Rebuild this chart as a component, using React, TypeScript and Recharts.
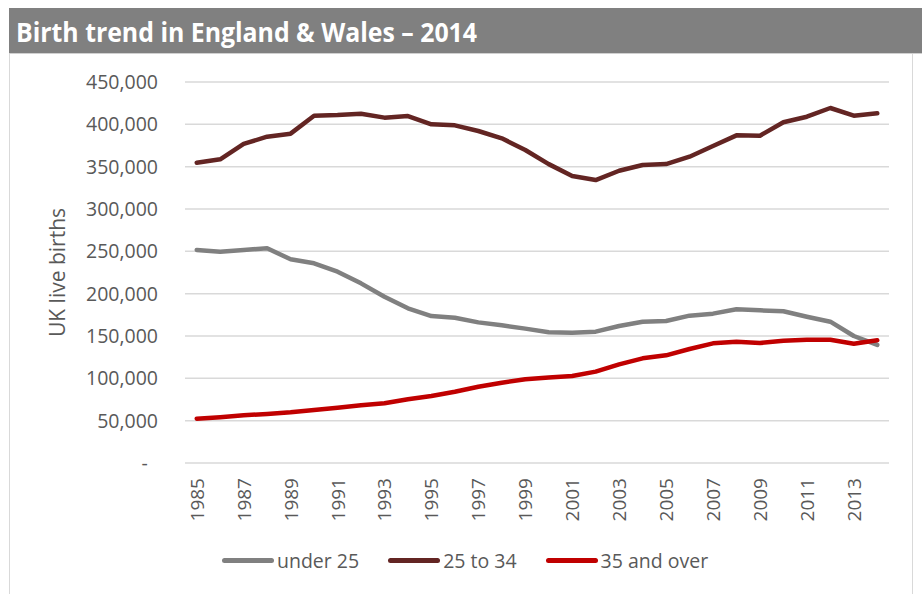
import React from 'react';
import { LineChart, Line, XAxis, YAxis, CartesianGrid } from 'recharts';

const years: string[] = [
  '1985', '1986', '1987', '1988', '1989', '1990', '1991', '1992', '1993', '1994',
  '1995', '1996', '1997', '1998', '1999', '2000', '2001', '2002', '2003', '2004',
  '2005', '2006', '2007', '2008', '2009', '2010', '2011', '2012', '2013', '2014',
];

const under25: number[] = [
  251600, 249600, 251600, 253600, 240600, 235900, 226000, 212200, 196400, 182700,
  173600, 171600, 166100, 162600, 158700, 154500, 153900, 155100, 161800, 166900,
  167700, 174000, 176400, 181500, 180300, 179200, 172800, 166900, 150000, 139400,
];

const age25to34: number[] = [
  354700, 358700, 376800, 385400, 389000, 410200, 411000, 412600, 407900, 409800,
  400000, 398800, 392100, 383500, 369700, 353000, 339000, 334200, 345200, 352000,
  353100, 361800, 374400, 387000, 386600, 402400, 409000, 419300, 410200, 413000,
];

const over35: number[] = [
  52300, 54000, 56300, 57900, 59900, 62600, 65300, 68100, 70500, 75200,
  79100, 84200, 90100, 94800, 98800, 101000, 102800, 107900, 116500, 123600,
  127200, 134600, 141300, 143300, 141700, 144400, 145600, 145600, 140900, 144900,
];

const yTicks: number[] = [0, 50000, 100000, 150000, 200000, 250000, 300000, 350000, 400000, 450000];

const series = [
  { key: 'under25', name: 'under 25', color: '#808080', values: under25 },
  { key: 'age25to34', name: '25 to 34', color: '#632523', values: age25to34 },
  { key: 'over35', name: '35 and over', color: '#c00000', values: over35 },
];

const data = years.map((year, i) => {
  const row: Record<string, string | number> = { year };
  series.forEach((s) => {
    row[s.key] = s.values[i];
  });
  return row;
});

const FONT = "'Open Sans', 'Noto Sans', sans-serif";
const TEXT = '#595959';

const formatY = (v: number) => (v === 0 ? '-\u00a0\u00a0' : v.toLocaleString('en-US'));

const XTick = (props: any) => {
  const { x, y, payload } = props;
  return (
    <text
      x={x}
      y={y}
      transform={`rotate(-90, ${x}, ${y})`}
      textAnchor="end"
      dominantBaseline="central"
      fill={TEXT}
      fontSize={19}
      fontFamily={FONT}
    >
      {payload.value}
    </text>
  );
};

export default function App() {
  return (
    <div
      style={{
        position: 'absolute',
        left: 0,
        top: 0,
        width: 922,
        height: 594,
        background: '#ffffff',
        overflow: 'hidden',
        fontFamily: FONT,
      }}
    >
      {/* chart frame */}
      <div
        style={{
          position: 'absolute',
          left: 9,
          top: 53,
          width: 902,
          height: 560,
          borderLeft: '1.5px solid #d9d9d9',
          borderRight: '1.5px solid #d9d9d9',
        }}
      />
      {/* title bar */}
      <div
        style={{
          position: 'absolute',
          left: 9,
          top: 8,
          width: 913,
          height: 45,
          background: '#808080',
          borderBottom: '1.5px solid #d0d0d0',
        }}
      />
      <svg style={{ position: 'absolute', left: 0, top: 0 }} width={922} height={60}>
        <text
          x={16}
          y={42}
          fill="#ffffff"
          fontSize={26}
          fontWeight="bold"
          fontFamily={FONT}
          textLength={461}
          lengthAdjust="spacingAndGlyphs"
        >
          Birth trend in England &amp; Wales – 2014
        </text>
      </svg>
      <div style={{ position: 'absolute', left: 0, top: 0 }}>
        <LineChart
          width={922}
          height={594}
          data={data}
          margin={{ top: 82, right: 33, bottom: 71, left: 105 }}
        >
          <CartesianGrid vertical={false} stroke="#d9d9d9" strokeWidth={1.5} />
          <XAxis
            dataKey="year"
            interval={1}
            height={60}
            padding={{ left: 11.73, right: 11.73 }}
            axisLine={false}
            tickLine={false}
            tickSize={0}
            tickMargin={15}
            tick={<XTick />}
          />
          <YAxis
            width={80}
            domain={[0, 450000]}
            ticks={yTicks}
            tickFormatter={formatY}
            axisLine={false}
            tickLine={false}
            tickSize={0}
            tickMargin={27}
            tick={{ fill: TEXT, fontSize: 19.5, fontFamily: FONT }}
            label={{
              value: 'UK live births',
              angle: -90,
              position: 'center',
              dx: -87,
              style: { fill: TEXT, fontSize: 21, fontFamily: FONT },
            }}
          />
          {series.map((s) => (
            <Line
              key={s.key}
              type="linear"
              dataKey={s.key}
              name={s.name}
              stroke={s.color}
              strokeWidth={4.5}
              strokeLinejoin="round"
              strokeLinecap="round"
              dot={false}
              activeDot={false}
              isAnimationActive={false}
            />
          ))}
        </LineChart>
      </div>
      {/* legend */}
      <div
        style={{
          position: 'absolute',
          left: 222,
          top: 546,
          height: 28,
          display: 'flex',
          alignItems: 'center',
          color: TEXT,
          fontSize: 19.5,
          fontFamily: FONT,
          whiteSpace: 'nowrap',
        }}
      >
        {series.map((s) => (
          <div key={s.key} style={{ display: 'flex', alignItems: 'center', marginRight: 29 }}>
            <div style={{ width: 52, height: 5, borderRadius: 3, background: s.color, marginRight: 3 }} />
            <span>{s.name}</span>
          </div>
        ))}
      </div>
    </div>
  );
}
